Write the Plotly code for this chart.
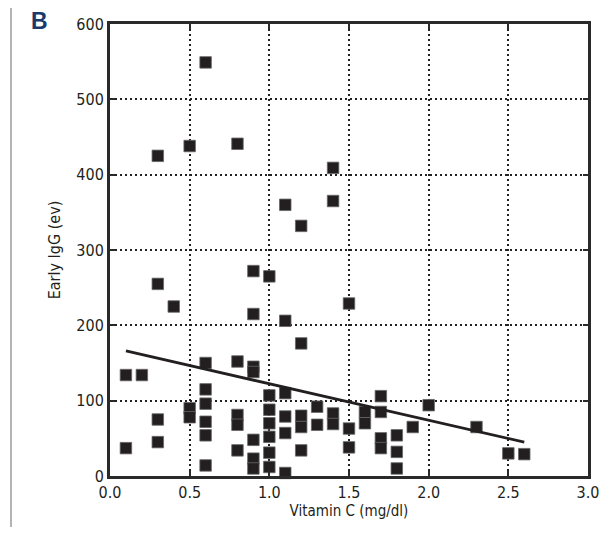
import plotly.graph_objects as go

vitamin_c = [0.1, 0.2, 0.1, 0.3, 0.3, 0.3, 0.3, 0.4, 0.5, 0.5, 0.5,
             0.6, 0.6, 0.6, 0.6, 0.6, 0.6, 0.6,
             0.8, 0.8, 0.8, 0.8, 0.8,
             0.9, 0.9, 0.9, 0.9, 0.9, 0.9, 0.9,
             1.0, 1.0, 1.0, 1.0, 1.0, 1.0, 1.0,
             1.1, 1.1, 1.1, 1.1, 1.1, 1.1,
             1.2, 1.2, 1.2, 1.2, 1.2,
             1.3, 1.3,
             1.4, 1.4, 1.4, 1.4,
             1.5, 1.5, 1.5,
             1.6, 1.6,
             1.7, 1.7, 1.7, 1.7,
             1.8, 1.8, 1.8,
             1.9, 2.0, 2.3, 2.5, 2.6]
early_igg = [134, 134, 37, 425, 255, 75, 45, 225, 438, 90, 78,
             549, 150, 115, 96, 72, 54, 14,
             441, 152, 81, 68, 34,
             272, 215, 145, 138, 48, 23, 10,
             265, 107, 88, 70, 52, 31, 12,
             360, 206, 110, 79, 57, 4,
             332, 176, 80, 65, 34,
             92, 68,
             409, 365, 83, 69,
             229, 63, 38,
             85, 70,
             106, 85, 50, 37,
             54, 32, 10,
             65, 94, 65, 30, 29]

fit_x = [0.1, 2.6]
fit_y = [166, 45]

x_ticks = [0.0, 0.5, 1.0, 1.5, 2.0, 2.5, 3.0]
x_tick_labels = ["0.0", "0.5", "1.0", "1.5", "2.0", "2.5", "3.0"]
y_ticks = [0, 100, 200, 300, 400, 500, 600]

font_family = "Liberation Sans Narrow, Arial Narrow, DejaVu Sans Condensed, sans-serif"

# page body has an 8px margin; figure is sized/offset to compensate
W, H = 599, 519
L, R, T, B = 102, 19, 16, 51
PW, PH = W - L - R, H - T - B

fig = go.Figure()
fig.add_trace(go.Scatter(
    x=vitamin_c, y=early_igg, mode="markers",
    marker=dict(symbol="square", size=11.5, color="#231f20",
                line=dict(color="#666666", width=0.8)),
    cliponaxis=False, showlegend=False,
))
fig.add_trace(go.Scatter(
    x=fit_x, y=fit_y, mode="lines",
    line=dict(color="#231f20", width=2.8),
    showlegend=False,
))

axis_common = dict(
    showline=True, linecolor="#2a2a2a", linewidth=3, mirror="ticks",
    ticks="inside", ticklen=5, tickwidth=1.5, tickcolor="#2a2a2a",
    showgrid=True, gridcolor="#222222", gridwidth=1.6, griddash="2px,3px",
    zeroline=False, automargin=False, ticklabeloverflow="allow",
    tickfont=dict(family=font_family, size=16, color="#231f20"),
)

fig.update_xaxes(range=[0, 3], tickvals=x_ticks, ticktext=x_tick_labels,
                 title=dict(text="Vitamin C (mg/dl)", standoff=3,
                            font=dict(family=font_family, size=15, color="#231f20")),
                 **axis_common)
fig.update_yaxes(range=[0, 600], tickvals=y_ticks,
                 title=dict(text="Early IgG (ev)", standoff=12,
                            font=dict(family=font_family, size=16, color="#231f20")),
                 **axis_common)

fig.add_annotation(text="<b>B</b>", xref="paper", yref="paper",
                   x=(29 - 8 - L) / PW, y=1 + (T - 13) / PH, xanchor="left", yanchor="middle",
                   showarrow=False,
                   font=dict(family="Liberation Sans, Arial, sans-serif", size=23, color="#1a3a6c"))

fig.add_shape(type="line", xref="paper", yref="paper",
              x0=(11 - 8 - L) / PW, x1=(11 - 8 - L) / PW, y0=-B / PH, y1=1 + T / PH,
              line=dict(color="#9a9a9a", width=1.5))

fig.update_layout(
    width=W, height=H,
    margin=dict(l=L, r=R, t=T, b=B, autoexpand=False),
    plot_bgcolor="white", paper_bgcolor="white",
)

fig.write_html("out.html")
